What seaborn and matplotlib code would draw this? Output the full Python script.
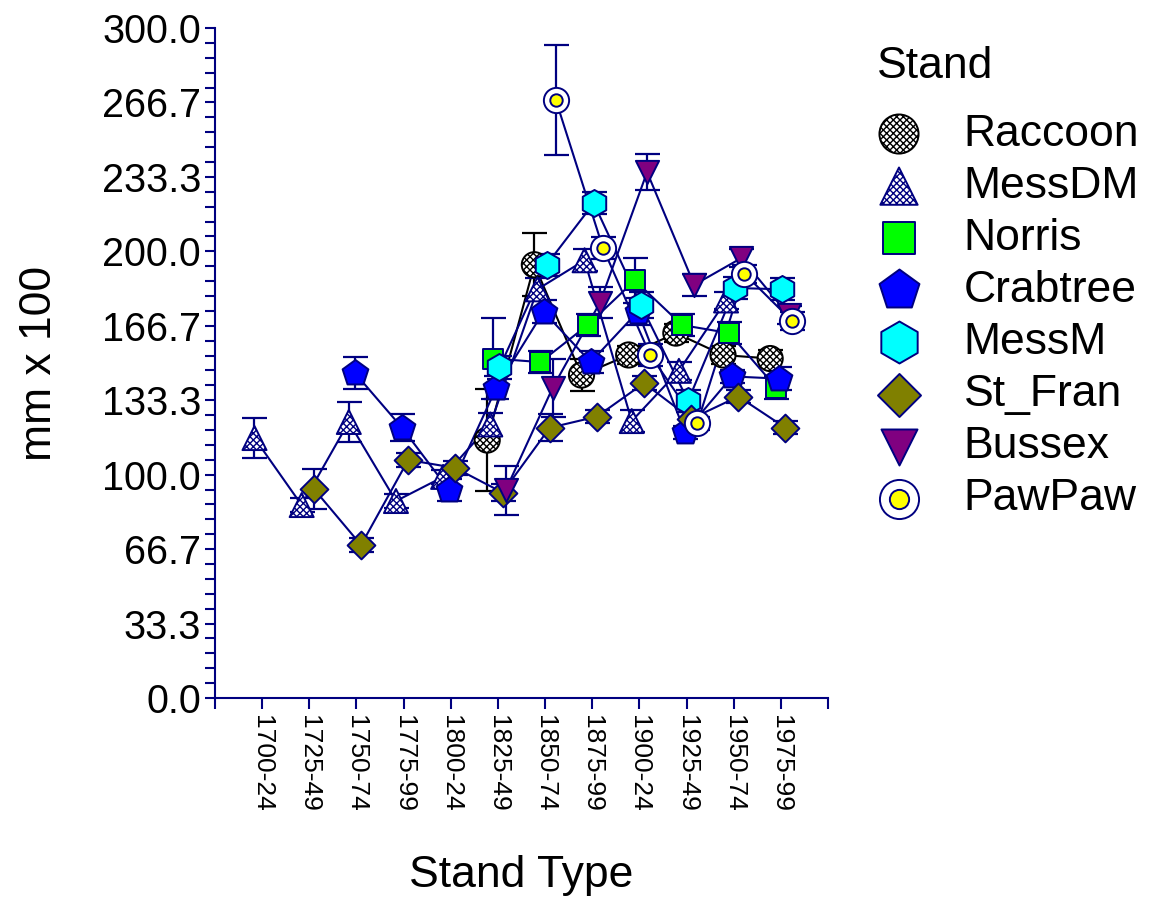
import numpy as np
import pandas as pd
import matplotlib
matplotlib.use("Agg")
import matplotlib.pyplot as plt
import seaborn as sns
from matplotlib.ticker import AutoMinorLocator, FormatStrFormatter, FixedLocator
from matplotlib.legend_handler import HandlerTuple

nan = np.nan

categories = ["1700-24", "1725-49", "1750-74", "1775-99", "1800-24", "1825-49",
              "1850-74", "1875-99", "1900-24", "1925-49", "1950-74", "1975-99"]

raccoon = [nan, nan, nan, nan, nan, 115.5, 194.0, 144.6, 153.6, 163.4, 153.6, 152.0]
raccoon_err = [nan, nan, nan, nan, nan, 23, 14, 7, 4, 4, 4, 4]
messdm = [116.4, 86.4, 123.6, 88.2, 99.0, 122.5, 183.0, 196.0, 124.0, 146.5, 178.0, nan]
messdm_err = [9, 3, 9, 3, 3, 5, 5, 5, 5, 4, 4, nan]
norris = [nan, nan, nan, nan, nan, 152.0, 150.4, 167.0, 187.0, 167.0, 163.4, 139.0]
norris_err = [nan, nan, nan, nan, nan, 18, 5, 5, 10, 5, 5, 5]
crabtree = [nan, nan, 145.5, 121.0, 93.0, 139.0, 173.0, 150.4, 173.0, 119.0, 144.0, 143.0]
crabtree_err = [nan, nan, 7, 6, 5, 5, 5, 5, 6, 3, 3, 5]
messm = [nan, nan, nan, nan, nan, 148.0, 194.0, 221.6, 176.0, 133.0, 183.6, 183.0]
messm_err = [nan, nan, nan, nan, nan, 5, 5, 5, 6, 5, 5, 5]
stfran = [nan, 93.6, 68.5, 106.6, 103.0, 92.0, 121.0, 126.0, 141.0, 125.0, 135.0, 121.0]
stfran_err = [nan, 9, 3, 3, 3, 4, 6, 3, 3, 3, 3, 3]
bussex = [nan, nan, nan, nan, nan, 93.0, 139.0, 177.0, 235.5, 185.0, 197.0, 171.5]
bussex_err = [nan, nan, nan, nan, nan, 11, 13, 7, 8, 5, 4, 4]
pawpaw = [nan, nan, nan, nan, nan, nan, 267.8, 201.5, 153.6, 123.0, 190.0, 169.0]
pawpaw_err = [nan, nan, nan, nan, nan, nan, 24.5, 5, 5, 3, 4, 4]

stands = ["Raccoon", "MessDM", "Norris", "Crabtree", "MessM", "St_Fran", "Bussex", "PawPaw"]
values = [raccoon, messdm, norris, crabtree, messm, stfran, bussex, pawpaw]
errors = [raccoon_err, messdm_err, norris_err, crabtree_err, messm_err, stfran_err, bussex_err, pawpaw_err]

NAVY = "#000080"
styles = {
    "Raccoon": dict(marker="o", fc="white", ec="black", line="black", s=330, hatch="xxxxx"),
    "MessDM": dict(marker="^", fc="white", ec=NAVY, line=NAVY, s=300, hatch="xxxxx"),
    "Norris": dict(marker="s", fc="#00ff00", ec=NAVY, line=NAVY, s=210, hatch=None),
    "Crabtree": dict(marker="p", fc="#0000ff", ec=NAVY, line=NAVY, s=380, hatch=None),
    "MessM": dict(marker="h", fc="#00ffff", ec=NAVY, line=NAVY, s=380, hatch=None),
    "St_Fran": dict(marker="D", fc="#808000", ec=NAVY, line=NAVY, s=200, hatch=None),
    "Bussex": dict(marker="v", fc="#800080", ec=NAVY, line=NAVY, s=280, hatch=None),
    "PawPaw": dict(marker="o", fc="white", ec=NAVY, line=NAVY, s=330, hatch=None),
}

sns.set_style("white")
plt.rcParams["font.family"] = ["Liberation Sans", "DejaVu Sans"]
plt.rcParams["text.color"] = "black"
plt.rcParams["axes.labelcolor"] = "black"
plt.rcParams["xtick.labelcolor"] = "black"
plt.rcParams["ytick.labelcolor"] = "black"
plt.rcParams["hatch.linewidth"] = 1.0

fig = plt.figure(figsize=(11.51, 9.01), dpi=100)
ax = fig.add_axes([0.1868, 0.2253, 0.7194 - 0.1868, 0.9689 - 0.2253])

x_idx = np.arange(len(categories))
handles = {}
for i, (name, vals, errs) in enumerate(zip(stands, values, errors)):
    st = styles[name]
    xs = x_idx + (i - 3.5) * 0.065
    df = pd.DataFrame({"x": xs, "y": vals, "err": errs}).dropna()
    sns.lineplot(data=df, x="x", y="y", color=st["line"], linewidth=1.5, ax=ax,
                 sort=True, estimator=None)
    ax.errorbar(df["x"], df["y"], yerr=df["err"], fmt="none", ecolor=st["line"],
                elinewidth=1.6, capsize=9, capthick=1.6)
    sns.scatterplot(data=df, x="x", y="y", marker=st["marker"], s=st["s"],
                    color=st["fc"], edgecolor=st["ec"], linewidth=1.4,
                    hatch=st["hatch"], ax=ax, zorder=3, legend=False)
    coll = ax.collections[-1]
    if name == "PawPaw":
        sns.scatterplot(data=df, x="x", y="y", marker="o", s=80, color="#ffff00",
                        edgecolor=NAVY, linewidth=1.4, ax=ax, zorder=4, legend=False)
        handles[name] = (coll, ax.collections[-1])
    else:
        handles[name] = coll

ax.set_xlim(-1, 12)
ax.set_ylim(0, 300)
ax.set_xticks(x_idx)
ax.set_xticklabels(categories, rotation=270, fontsize=19)
ax.xaxis.set_minor_locator(FixedLocator([-1, 12]))
ax.set_yticks(np.linspace(0, 300, 10))
ax.yaxis.set_major_formatter(FormatStrFormatter("%.1f"))
ax.yaxis.set_minor_locator(AutoMinorLocator(5))
ax.tick_params(axis="y", which="major", labelsize=28.5, length=7, width=1.5,
               color=NAVY, left=True, direction="out", pad=3)
ax.tick_params(axis="y", which="minor", length=7, width=1.5, color=NAVY,
               left=True, direction="out")
ax.tick_params(axis="x", which="both", length=8, width=1.5, color=NAVY,
               bottom=True, direction="out", pad=4)

for side in ["top", "right"]:
    ax.spines[side].set_visible(False)
for side in ["left", "bottom"]:
    ax.spines[side].set_color(NAVY)
    ax.spines[side].set_linewidth(1.5)

ax.set_xlabel("Stand Type", fontsize=32, labelpad=31)
ax.set_ylabel("mm x 100", fontsize=32, labelpad=30)

leg = fig.legend([handles[n] for n in stands], stands, loc="upper left",
                 bbox_to_anchor=(0.727, 0.993), frameon=False, fontsize=32,
                 title="Stand", title_fontsize=32, alignment="left",
                 handlelength=1.0, handletextpad=0.95, labelspacing=0.25,
                 markerscale=1.55, scatterpoints=1,
                 handler_map={tuple: HandlerTuple(ndivide=1)})
# extra gap between the title and the first entry
leg._legend_box.sep = 19

fig.savefig("out.png", dpi=100)
